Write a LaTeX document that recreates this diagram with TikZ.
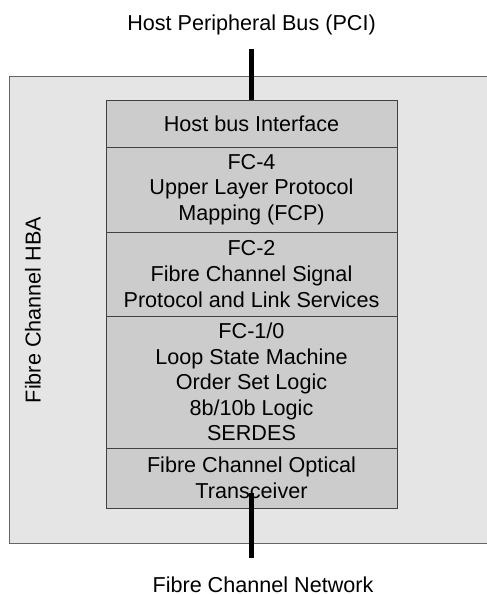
\documentclass[tikz,border=0pt]{standalone}
\usepackage{fontspec}
\setmainfont{Liberation Sans}
\usetikzlibrary{positioning}

\tikzset{
  layer/.style={draw=black!75, fill=black!20, minimum width=218.25pt,
    inner sep=0pt, outer sep=0pt, align=center,
    font=\fontsize{16.2}{19.2}\selectfont},
  lbl/.style={inner sep=0pt, font=\fontsize{16.2}{19.2}\selectfont},
  bus/.style={line width=4.2pt}
}

\begin{document}
\begin{tikzpicture}[x=0.75pt,y=0.75pt,yscale=-1,xscale=1]

\useasboundingbox (0,0) rectangle (486,595);

% HBA card
\draw [draw=black!60, fill=black!10] (9,76) rectangle (494,543);
\node [lbl, rotate=90] (hba) at (33,310) {Fibre Channel HBA};

% layer stack
\node [layer, anchor=north, minimum height=35.25pt] (hbi) at (251.5,100) {Host bus Interface};
\node [layer, below=0pt of hbi, minimum height=63.75pt] (fcfour) {FC-4\\Upper Layer Protocol\\Mapping (FCP)};
\node [layer, below=0pt of fcfour, minimum height=63pt] (fctwo) {FC-2\\Fibre Channel Signal\\Protocol and Link Services};
\node [layer, below=0pt of fctwo, minimum height=99pt] (fcone) {FC-1/0\\Loop State Machine\\Order Set Logic\\8b/10b Logic\\SERDES};
\node [layer, below=0pt of fcone, minimum height=45pt] (xcvr) {Fibre Channel Optical\\Transceiver};

% buses
\node [lbl, anchor=base] (pci) at (251.5,31) {Host Peripheral Bus (PCI)};
\coordinate (pcitop) at (251.5,49);
\draw [bus] (pcitop) -- (hbi.north);

\node [lbl, anchor=base] (net) at (263,592) {Fibre Channel Network};
\coordinate (xcvrin) at (251.5,493);
\coordinate (netend) at (251.5,558);
\draw [bus] (xcvrin) -- (netend);

\end{tikzpicture}
\end{document}
